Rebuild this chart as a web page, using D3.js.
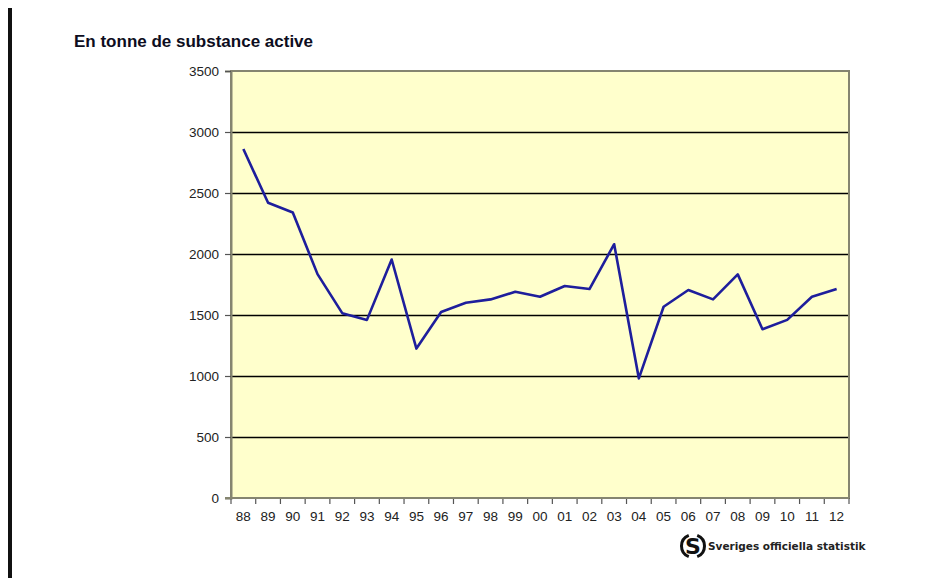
<!DOCTYPE html>
<html>
<head>
<meta charset="utf-8">
<script src="https://cdn.jsdelivr.net/npm/d3@7"></script>
<style>
  html, body { margin: 0; padding: 0; background: #fff; }
  svg { display: block; }
</style>
</head>
<body>
<svg id="chart" width="949" height="578"></svg>
<script>
// Annual sales of plant protection products, tonnes of active substance
const years = ["88","89","90","91","92","93","94","95","96","97","98","99","00",
               "01","02","03","04","05","06","07","08","09","10","11","12"];
const tonnes = [2860, 2420, 2340, 1835, 1515, 1460, 1955, 1225, 1525, 1600, 1628, 1690, 1650,
                1738, 1713, 2080, 980, 1568, 1705, 1628, 1833, 1383, 1460, 1650, 1713];
const yTicks = [0, 500, 1000, 1500, 2000, 2500, 3000, 3500];

const svg = d3.select("#chart");
const plot = { left: 231, right: 849, top: 71, bottom: 498 };
const font = "Liberation Sans, Arial, sans-serif";

// page frame bar on the left
svg.append("rect").attr("x", 8).attr("y", 8).attr("width", 4).attr("height", 570).attr("fill", "#111");

// title
svg.append("text")
  .attr("x", 74).attr("y", 47)
  .attr("font-family", font)
  .attr("font-size", 17).attr("font-weight", "bold").attr("fill", "#0d0d20")
  .text("En tonne de substance active");

const x = d3.scaleBand().domain(years).range([plot.left, plot.right]);
const y = d3.scaleLinear().domain([0, 3500]).range([plot.bottom, plot.top]);

// plot background
svg.append("rect")
  .attr("x", plot.left).attr("y", plot.top)
  .attr("width", plot.right - plot.left).attr("height", plot.bottom - plot.top)
  .attr("fill", "#FFFFCC");

// horizontal gridlines
svg.append("g").selectAll("line")
  .data(yTicks.filter(d => d > 0 && d < 3500))
  .join("line")
  .attr("x1", plot.left).attr("x2", plot.right)
  .attr("y1", d => Math.round(y(d)) + 0.5).attr("y2", d => Math.round(y(d)) + 0.5)
  .attr("stroke", "#000").attr("stroke-width", 1.3);

// plot border
svg.append("rect")
  .attr("x", plot.left).attr("y", plot.top)
  .attr("width", plot.right - plot.left).attr("height", plot.bottom - plot.top)
  .attr("fill", "none").attr("stroke", "#858570").attr("stroke-width", 2);

// y axis
const yAxis = svg.append("g")
  .attr("transform", `translate(${plot.left},0)`)
  .call(d3.axisLeft(y).tickValues(yTicks).tickSize(6).tickPadding(6).tickFormat(d3.format("d")));
yAxis.select(".domain").attr("stroke", "#858570").attr("stroke-width", 2);
yAxis.selectAll(".tick line").attr("stroke", "#555").attr("stroke-width", 1.2);
yAxis.selectAll("text")
  .attr("font-family", font)
  .attr("font-size", 13.5).attr("fill", "#222");

// x axis: ticks at category boundaries, labels centred
const bounds = years.map(d => x(d)).concat([plot.right]);
svg.append("g").selectAll("line")
  .data(bounds)
  .join("line")
  .attr("x1", d => d).attr("x2", d => d)
  .attr("y1", plot.bottom).attr("y2", plot.bottom + 6)
  .attr("stroke", "#555").attr("stroke-width", 1.2);
svg.append("line")
  .attr("x1", plot.left - 6).attr("x2", plot.right)
  .attr("y1", plot.bottom).attr("y2", plot.bottom)
  .attr("stroke", "#858570").attr("stroke-width", 2);
svg.append("g").selectAll("text")
  .data(years)
  .join("text")
  .attr("x", d => x(d) + x.bandwidth() / 2)
  .attr("y", plot.bottom + 23)
  .attr("text-anchor", "middle")
  .attr("font-family", font)
  .attr("font-size", 13.5).attr("fill", "#222")
  .text(d => d);

// data line
const line = d3.line()
  .x((d, i) => x(years[i]) + x.bandwidth() / 2)
  .y(d => y(d));
svg.append("path")
  .datum(tonnes)
  .attr("d", line)
  .attr("fill", "none")
  .attr("stroke", "#1E1E9C")
  .attr("stroke-width", 2.6)
  .attr("stroke-linejoin", "round");

// source logo
const logo = svg.append("g").attr("transform", "translate(693,546)");
logo.append("path")
  .attr("d", d3.arc()({ innerRadius: 10, outerRadius: 13, startAngle: Math.PI * 1.12, endAngle: Math.PI * 1.88 }))
  .attr("fill", "#111");
logo.append("path")
  .attr("d", d3.arc()({ innerRadius: 10, outerRadius: 13, startAngle: Math.PI * 0.12, endAngle: Math.PI * 0.88 }))
  .attr("fill", "#111");
logo.append("text")
  .attr("x", 0).attr("y", 8)
  .attr("text-anchor", "middle")
  .attr("font-family", "DejaVu Sans, sans-serif")
  .attr("font-size", 22).attr("font-weight", "bold").attr("fill", "#111")
  .text("S");
svg.append("text")
  .attr("x", 708).attr("y", 550)
  .attr("font-family", "DejaVu Sans, sans-serif")
  .attr("font-size", 10.5).attr("font-weight", "bold").attr("fill", "#222")
  .text("Sveriges officiella statistik");
</script>
</body>
</html>
